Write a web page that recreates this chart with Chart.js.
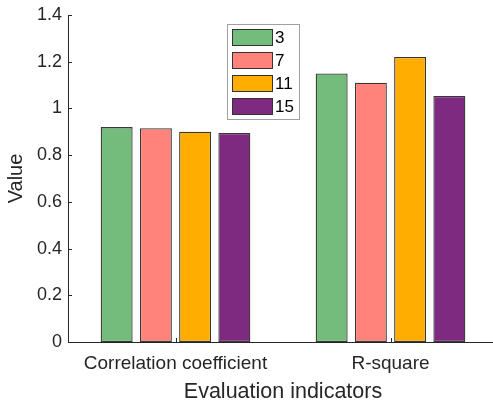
<!DOCTYPE html>
<html>
<head>
<meta charset="utf-8">
<script src="https://cdn.jsdelivr.net/npm/chart.js@4.4.0/dist/chart.umd.min.js"></script>
<style>
  html, body { margin: 0; padding: 0; background: #fff; overflow: hidden; }
  #wrap { width: 498px; height: 405px; }
</style>
</head>
<body>
<div id="wrap"><canvas id="grafico" width="498" height="405"></canvas></div>
<script>
// datos
const indicadores = ['Correlation coefficient', 'R-square'];
const series = ['3', '7', '11', '15'];
const valores3 = [0.92, 1.15];
const valores7 = [0.915, 1.11];
const valores11 = [0.90, 1.22];
const valores15 = [0.895, 1.053];
const ticksY = [0, 0.2, 0.4, 0.6, 0.8, 1, 1.2, 1.4];
const colores = ['#73bc7b', '#ff837b', '#ffad00', '#7e2a80'];

const fuente = 'Liberation Sans, Arial, sans-serif';
const gris = '#262626';

// ticks hacia adentro
const ticksInternos = {
  id: 'ticksInternos',
  afterDraw(chart) {
    const ctx = chart.ctx, x = chart.scales.x, y = chart.scales.y;
    ctx.save();
    ctx.strokeStyle = gris;
    ctx.lineWidth = 1;
    ctx.beginPath();
    ticksY.forEach(v => {
      const py = Math.round(y.getPixelForValue(v)) + 0.5;
      ctx.moveTo(x.left, py); ctx.lineTo(x.left + 4, py);
    });
    indicadores.forEach((c, i) => {
      const px = Math.round(x.getPixelForValue(i)) + 0.5;
      ctx.moveTo(px, y.bottom); ctx.lineTo(px, y.bottom - 4);
    });
    ctx.stroke();
    ctx.restore();
  }
};

// leyenda dentro del area
const leyenda = {
  id: 'leyenda',
  afterDraw(chart) {
    const ctx = chart.ctx;
    ctx.save();
    ctx.fillStyle = '#fff';
    ctx.fillRect(227, 24, 72, 95);
    ctx.strokeStyle = '#a0a0a0';
    ctx.lineWidth = 1;
    ctx.strokeRect(227.5, 24.5, 72, 95);
    chart.data.datasets.forEach((ds, i) => {
      const y0 = 29 + i * 23;
      ctx.fillStyle = ds.backgroundColor;
      ctx.fillRect(232, y0, 40, 16);
      ctx.strokeStyle = '#333';
      ctx.strokeRect(232.5, y0 + 0.5, 40, 16);
      ctx.fillStyle = '#000';
      ctx.font = '17px ' + fuente;
      ctx.textBaseline = 'middle';
      ctx.fillText(ds.label, 275, y0 + 9);
    });
    ctx.restore();
  }
};

new Chart(document.getElementById('grafico'), {
  type: 'bar',
  data: {
    labels: indicadores,
    datasets: [
      { label: series[0], data: valores3, backgroundColor: colores[0] },
      { label: series[1], data: valores7, backgroundColor: colores[1] },
      { label: series[2], data: valores11, backgroundColor: colores[2] },
      { label: series[3], data: valores15, backgroundColor: colores[3] }
    ].map(d => Object.assign(d, { borderColor: '#383838', borderWidth: 1.3, borderSkipped: false, categoryPercentage: 0.73, barPercentage: 0.815 }))
  },
  options: {
    responsive: false,
    animation: false,
    layout: { padding: { left: 0, top: 15, right: 0, bottom: 0 } },
    plugins: { legend: { display: false }, tooltip: { enabled: false } },
    scales: {
      x: {
        grid: { display: false },
        border: { display: true, color: gris, width: 1 },
        ticks: { color: gris, font: { family: fuente, size: 19 }, padding: 2, maxRotation: 0 },
        title: { display: true, text: 'Evaluation indicators', color: gris, font: { family: fuente, size: 21.5 }, padding: { top: 0, bottom: 0 } },
        afterFit(s) { s.height = 63; }
      },
      y: {
        min: 0, max: 1.4,
        afterBuildTicks(s) { s.ticks = ticksY.map(v => ({ value: v })); },
        grid: { display: false },
        border: { display: true, color: gris, width: 1 },
        ticks: { color: gris, font: { family: fuente, size: 18 }, padding: -2, callback: v => String(+v.toFixed(1)) },
        title: { display: true, text: 'Value', color: gris, font: { family: fuente, size: 20 }, padding: { bottom: 4 } },
        afterFit(s) { s.width = 68; }
      }
    }
  },
  plugins: [ticksInternos, leyenda]
});
</script>
</body>
</html>
